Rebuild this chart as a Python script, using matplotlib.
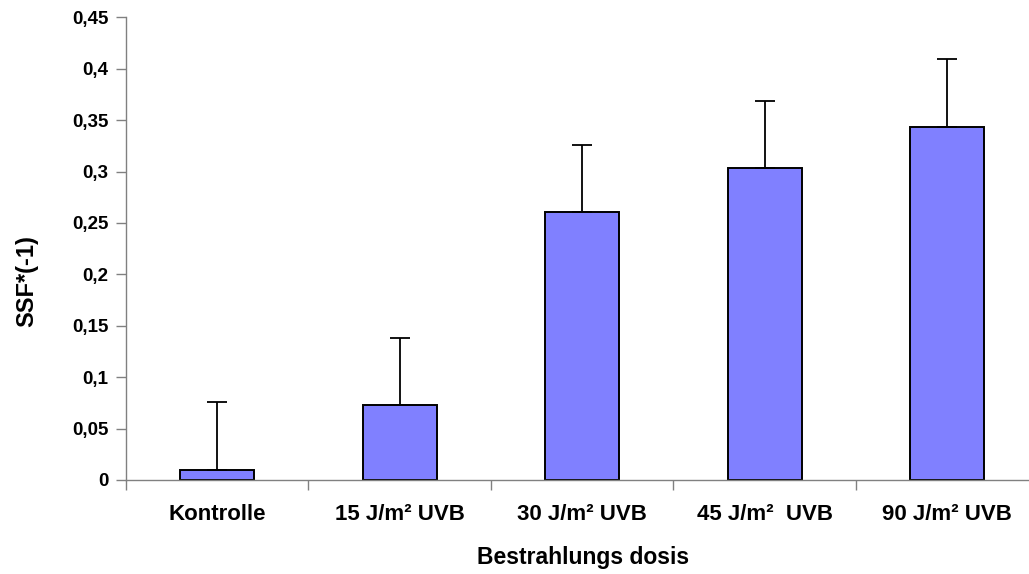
import matplotlib
matplotlib.use("Agg")
import matplotlib.pyplot as plt
from matplotlib.ticker import FixedLocator, FuncFormatter

categories = ["Kontrolle", "15 J/m² UVB", "30 J/m² UVB", "45 J/m²  UVB", "90 J/m² UVB"]
values = [0.010, 0.073, 0.261, 0.303, 0.343]
errors = [0.066, 0.065, 0.065, 0.066, 0.066]
yticks = [0, 0.05, 0.1, 0.15, 0.2, 0.25, 0.3, 0.35, 0.4, 0.45]

plt.rcParams["font.family"] = ["Liberation Sans", "DejaVu Sans"]
plt.rcParams["font.weight"] = "bold"

fig = plt.figure(figsize=(10.29, 5.74), dpi=100)
ax = fig.add_axes([0.1224, 0.1638, 0.8868, 0.8061])

x = list(range(len(categories)))
ax.bar(x, values, width=0.405, color="#8080FF", edgecolor="black", linewidth=1.4, zorder=2)
ax.errorbar(x, values, yerr=[[0] * len(errors), errors], fmt="none", ecolor="black",
            elinewidth=1.3, capsize=7.5, capthick=1.3, zorder=3)

ax.set_xlim(-0.5, len(categories) - 0.5)
ax.set_ylim(0, 0.45)

for side in ("top", "right"):
    ax.spines[side].set_visible(False)
for side in ("left", "bottom"):
    ax.spines[side].set_color("#808080")
    ax.spines[side].set_linewidth(1.0)

ax.set_yticks(yticks)
ax.yaxis.set_major_formatter(FuncFormatter(lambda v, p: ("%g" % round(v, 2)).replace(".", ",")))
ax.tick_params(axis="y", direction="out", length=7, width=1, color="#808080", pad=5.5,
               labelsize=13.5)

ax.set_xticks(x)
ax.set_xticklabels(categories)
ax.xaxis.set_minor_locator(FixedLocator([i - 0.5 for i in range(len(categories) + 1)]))
ax.tick_params(axis="x", which="major", length=0, pad=17, labelsize=16)
ax.tick_params(axis="x", which="minor", direction="out", length=7, width=1, color="#808080")
for lbl in ax.get_xticklabels() + ax.get_yticklabels():
    lbl.set_fontweight("bold")

ax.set_xlabel("Bestrahlungs dosis", fontsize=16.5, fontweight="bold")
ax.set_ylabel("SSF*(-1)", fontsize=17, fontweight="bold")
ax.xaxis.set_label_coords(0.5008, -0.1426)
ax.yaxis.set_label_coords(-0.1085, 0.429)
ax.yaxis.label.set_verticalalignment("center")

fig.savefig("out.png", dpi=100)
